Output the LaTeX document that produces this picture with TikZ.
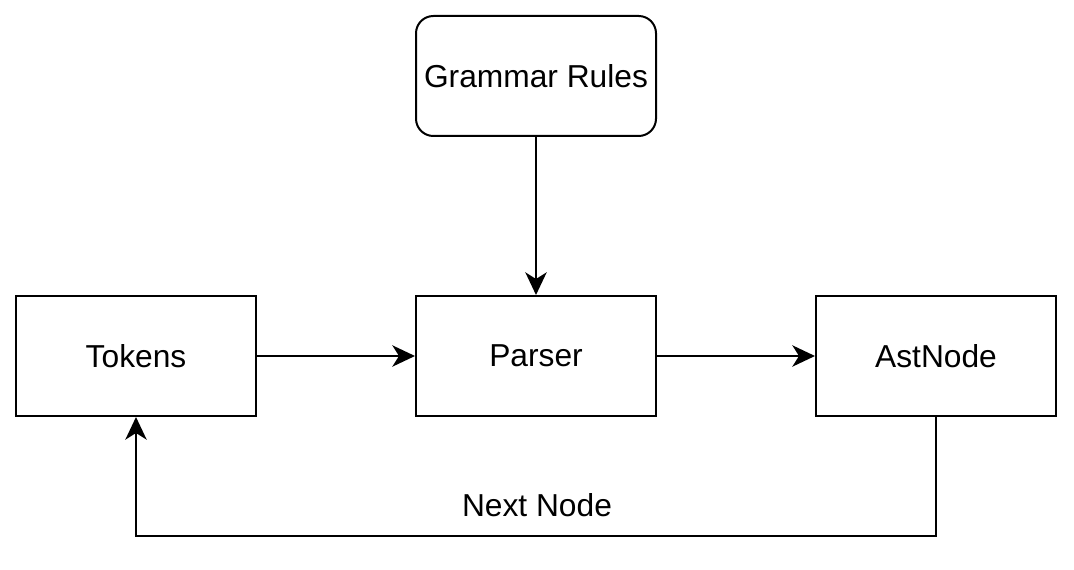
\documentclass[tikz,border=0pt]{standalone}
\usepackage{fontspec}
\setmainfont{Liberation Sans}
\usetikzlibrary{arrows.meta}
\begin{document}
\begin{tikzpicture}[x=0.75pt,y=-0.75pt,
  box/.style={draw,line width=1.5pt,minimum width=180pt,minimum height=90pt,inner sep=0pt,font=\fontsize{23.8}{28}\selectfont},
  conn/.style={line width=1.5pt,-{Stealth[length=17pt,width=16pt,inset=5pt]}}]
\useasboundingbox (0,0) rectangle (1074,570);
\node[box,rounded corners=13pt] (gr) at (536,76) {Grammar Rules};
\node[box] (tok) at (136,356) {Tokens};
\node[box] (par) at (536,356) {Parser};
\node[box] (ast) at (936,356) {AstNode};
\coordinate (c1) at (936,536);
\coordinate (c2) at (136,536);
\draw[conn] (gr) -- (par);
\draw[conn] (tok) -- (par);
\draw[conn] (par) -- (ast);
\draw[conn] (ast.south) -- (c1) -- (c2) -- (tok.south);
\node[font=\fontsize{23.8}{28}\selectfont] (lbl) at (537,505) {Next Node};
\end{tikzpicture}
\end{document}
